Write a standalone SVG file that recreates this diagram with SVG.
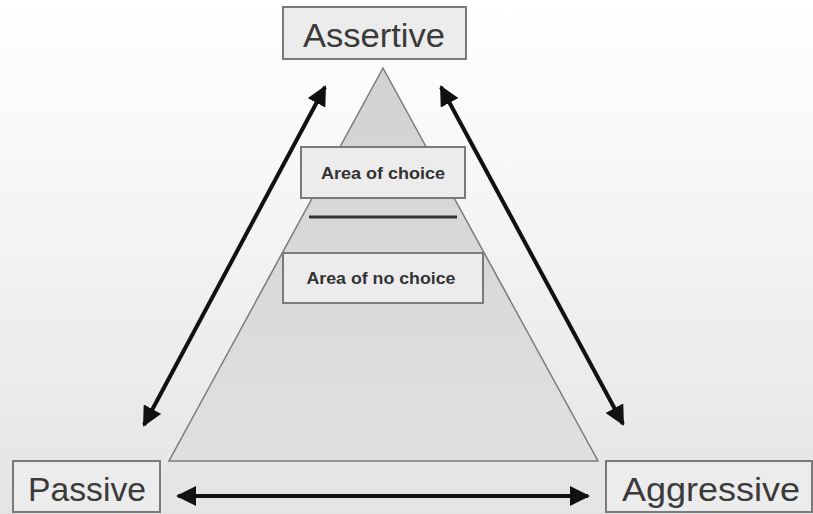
<svg xmlns="http://www.w3.org/2000/svg" width="813" height="514" viewBox="0 0 813 514">
<defs>
<linearGradient id="bg" x1="0" y1="0" x2="0" y2="1">
<stop offset="0" stop-color="#ffffff"/>
<stop offset="0.3" stop-color="#f8f8f8"/>
<stop offset="1" stop-color="#e4e4e4"/>
</linearGradient>
<linearGradient id="tri" x1="0" y1="0" x2="0" y2="1">
<stop offset="0" stop-color="#d2d2d2"/>
<stop offset="1" stop-color="#e0e0e0"/>
</linearGradient>
<marker id="ah" viewBox="0 0 10 10" refX="9" refY="5" markerWidth="5" markerHeight="5" orient="auto-start-reverse" markerUnits="strokeWidth">
<path d="M0,0 L10,5 L0,10 Z" fill="#111"/>
</marker>
<style>
.box{fill:#ececec;stroke:#7a7a7a;stroke-width:2}
.big{font-family:"Liberation Sans",Arial,sans-serif;font-size:34px;fill:#3a3a3a}
.small{font-family:"Liberation Sans",Arial,sans-serif;font-size:16px;font-weight:bold;fill:#333}
.conn{stroke:#111;stroke-width:4;fill:none;marker-start:url(#ah);marker-end:url(#ah)}
</style>
</defs>
<rect x="0" y="0" width="813" height="514" fill="url(#bg)"/>
<g id="pyramid">
<polygon points="383,68 598,461 169,461" fill="url(#tri)" stroke="#7a7a7a" stroke-width="1.5"/>
<line x1="309" y1="217" x2="457" y2="217" stroke="#333" stroke-width="3"/>
</g>
<g id="assertive">
<rect class="box" x="283" y="7" width="183" height="52"/>
<text class="big" x="374" y="47" text-anchor="middle" textLength="142" lengthAdjust="spacingAndGlyphs">Assertive</text>
</g>
<g id="area-of-choice">
<rect class="box" x="301" y="147" width="164" height="51"/>
<text class="small" x="383" y="179" text-anchor="middle" textLength="124" lengthAdjust="spacingAndGlyphs">Area of choice</text>
</g>
<g id="area-of-no-choice">
<rect class="box" x="283" y="253" width="200" height="50"/>
<text class="small" x="381" y="284" text-anchor="middle" textLength="149" lengthAdjust="spacingAndGlyphs">Area of no choice</text>
</g>
<g id="passive">
<rect class="box" x="13" y="461" width="147" height="51"/>
<text class="big" x="87" y="501" text-anchor="middle" textLength="118" lengthAdjust="spacingAndGlyphs">Passive</text>
</g>
<g id="aggressive">
<rect class="box" x="606" y="461" width="206" height="51"/>
<text class="big" x="711" y="501" text-anchor="middle" textLength="178" lengthAdjust="spacingAndGlyphs">Aggressive</text>
</g>
<g id="connectors">
<line class="conn" x1="325" y1="87" x2="144" y2="425"/>
<line class="conn" x1="441" y1="87" x2="623" y2="424"/>
<line class="conn" x1="178" y1="496" x2="588" y2="496"/>
</g>
</svg>
